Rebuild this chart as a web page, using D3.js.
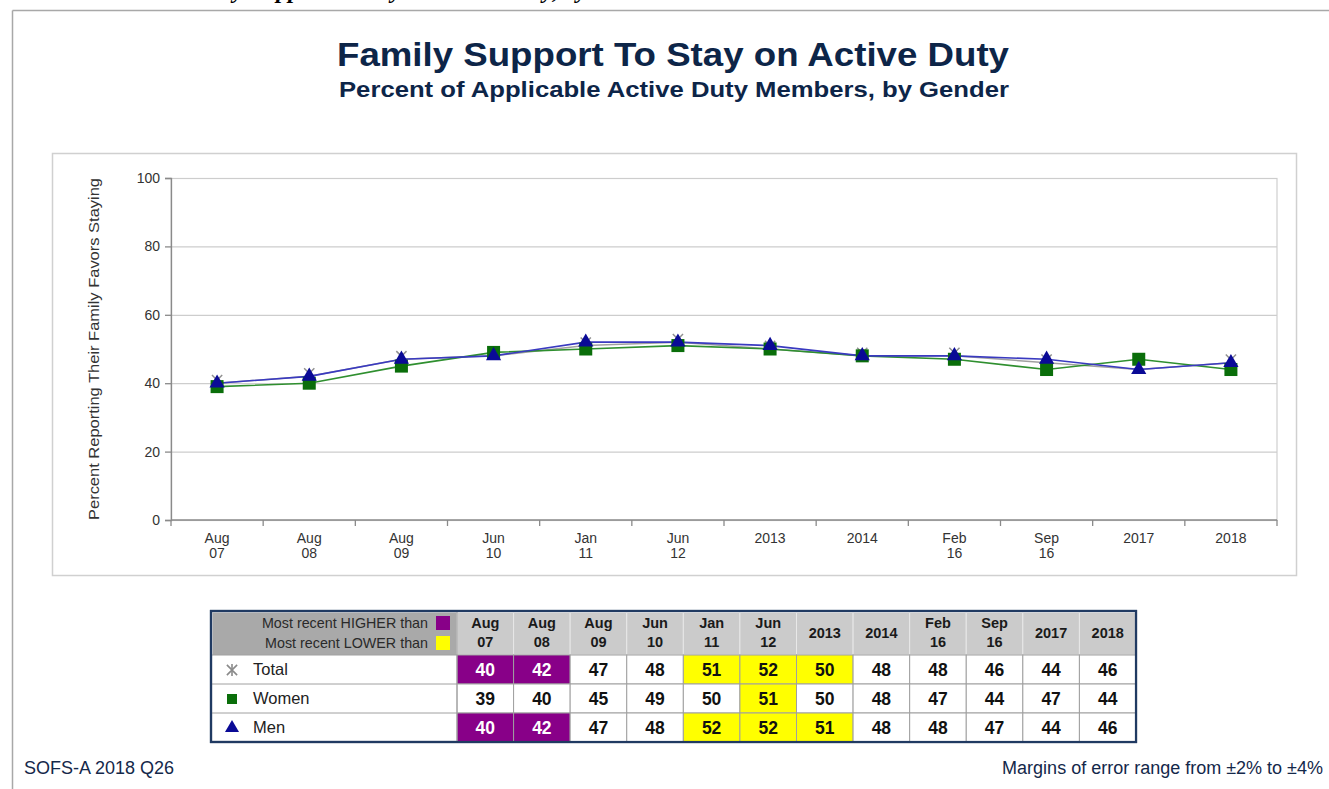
<!DOCTYPE html>
<html>
<head>
<meta charset="utf-8">
<script src="https://cdn.jsdelivr.net/npm/d3@7"></script>
<style>
  html, body { margin: 0; padding: 0; background: #fff; }
  svg { display: block; font-family: "Liberation Sans", Arial, sans-serif; }
</style>
</head>
<body>
<svg id="chart" width="1329" height="789"></svg>
<script>
// ---------- DATA ----------
const categories = ["Aug\n07","Aug\n08","Aug\n09","Jun\n10","Jan\n11","Jun\n12","2013","2014","Feb\n16","Sep\n16","2017","2018"];
const totalValues = [40,42,47,48,51,52,50,48,48,46,44,46];
const womenValues = [39,40,45,49,50,51,50,48,47,44,47,44];
const menValues   = [40,42,47,48,52,52,51,48,48,47,44,46];
// significance flags for the table: H = most recent higher than, L = most recent lower than
const totalSig = ["H","H","","","L","L","L","","","","",""];
const womenSig = ["","","","","","L","","","","","",""];
const menSig   = ["H","H","","","L","L","L","","","","",""];
const yTicks = [0,20,40,60,80,100];
const seriesNames = ["Total","Women","Men"];

// ---------- SETUP ----------
const svg = d3.select("#chart");
const navy = "#0d2548";

// outer frame
svg.append("line").attr("x1",12.5).attr("x2",1329).attr("y1",10.5).attr("y2",10.5).attr("stroke","#a8a8a8").attr("stroke-width",1.5);
svg.append("line").attr("x1",12.5).attr("x2",12.5).attr("y1",10.5).attr("y2",789).attr("stroke","#a8a8a8").attr("stroke-width",1.5);

// cropped heading at very top (only descenders visible in the reference)
svg.append("text").attr("x",173).attr("y",-2)
  .attr("font-family","'Liberation Serif','Times New Roman',serif").attr("font-weight","bold").attr("font-style","italic")
  .attr("font-size",24).attr("fill","#000")
  .text("Family Support to Stay on Active Duty, by Gender");

// titles
svg.append("text").attr("x",673).attr("y",66).attr("text-anchor","middle")
  .attr("font-size",33).attr("font-weight","bold").attr("fill",navy)
  .attr("textLength",672).attr("lengthAdjust","spacingAndGlyphs")
  .text("Family Support To Stay on Active Duty");
svg.append("text").attr("x",674).attr("y",97).attr("text-anchor","middle")
  .attr("font-size",22.5).attr("font-weight","bold").attr("fill",navy)
  .attr("textLength",670).attr("lengthAdjust","spacingAndGlyphs")
  .text("Percent of Applicable Active Duty Members, by Gender");

// chart panel
svg.append("rect").attr("x",52.5).attr("y",153.5).attr("width",1244).attr("height",422)
  .attr("fill","#fff").attr("stroke","#d0d0d0").attr("stroke-width",1.5);

const plot = {left:171, right:1277, top:178, bottom:520};
const x = d3.scaleBand().domain(d3.range(categories.length)).range([plot.left, plot.right]).padding(0);
const y = d3.scaleLinear().domain([0,100]).range([plot.bottom, plot.top]);
const cx = i => x(i) + x.bandwidth()/2;

// plot border
svg.append("rect").attr("x",plot.left).attr("y",plot.top+0.5).attr("width",plot.right-plot.left).attr("height",plot.bottom-plot.top)
  .attr("fill","none").attr("stroke","#cfcfcf").attr("stroke-width",1.2);

// gridlines
svg.append("g").attr("transform",`translate(${plot.left},0)`)
  .call(d3.axisLeft(y).tickValues(yTicks).tickSize(-(plot.right-plot.left)).tickFormat(""))
  .call(g => g.select(".domain").remove())
  .call(g => g.selectAll("line").attr("stroke","#cdcdcd").attr("stroke-width",1.2));

// y axis
svg.append("g").attr("transform",`translate(${plot.left},0)`)
  .call(d3.axisLeft(y).tickValues(yTicks).tickSize(6).tickPadding(5))
  .call(g => g.select(".domain").attr("stroke","#8a8a8a").attr("stroke-width",1.3))
  .call(g => g.selectAll("line").attr("stroke","#8a8a8a").attr("stroke-width",1.3))
  .call(g => g.selectAll("text").attr("font-size",14).attr("fill","#333").attr("font-family","'Liberation Sans', Arial, sans-serif"));

// x axis baseline and boundary ticks
svg.append("line").attr("x1",plot.left).attr("x2",plot.right).attr("y1",y(0)).attr("y2",y(0)).attr("stroke","#8a8a8a").attr("stroke-width",1.3);
svg.append("g").selectAll("line").data(d3.range(categories.length+1)).join("line")
  .attr("x1",i => i < categories.length ? x(i) : plot.right).attr("x2",i => i < categories.length ? x(i) : plot.right)
  .attr("y1",y(0)).attr("y2",y(0)+6).attr("stroke","#8a8a8a").attr("stroke-width",1.3);

// x labels
const xl = svg.append("g").selectAll("text").data(categories).join("text")
  .attr("x",(d,i)=>cx(i)).attr("y",543).attr("text-anchor","middle")
  .attr("font-size",14).attr("fill","#333");
xl.each(function(d){
  const parts = d.split("\n");
  const t = d3.select(this);
  parts.forEach((p,k)=> t.append("tspan").attr("x",t.attr("x")).attr("dy",k===0?0:15).text(p));
});

// y axis title
svg.append("text").attr("transform","translate(99,349) rotate(-90)").attr("text-anchor","middle")
  .attr("font-size",15).attr("fill","#333")
  .attr("textLength",342).attr("lengthAdjust","spacingAndGlyphs")
  .text("Percent Reporting Their Family Favors Staying");

// lines
const line = d3.line().x((d,i)=>cx(i)).y(d=>y(d));
svg.append("path").datum(totalValues).attr("d",line).attr("fill","none").attr("stroke","#a0a0a0").attr("stroke-width",1.5);
svg.append("path").datum(womenValues).attr("d",line).attr("fill","none").attr("stroke","#2f8f2f").attr("stroke-width",1.6);
svg.append("path").datum(menValues).attr("d",line).attr("fill","none").attr("stroke","#3a3ac0").attr("stroke-width",1.6);

// markers
svg.append("g").selectAll("path").data(totalValues).join("path")
  .attr("transform",(d,i)=>`translate(${cx(i)},${y(d)-3})`)
  .attr("d", d3.symbol().type(d3.symbolTimes).size(70)).attr("stroke","#909090").attr("stroke-width",1.5).attr("fill","none");
svg.append("g").selectAll("rect").data(womenValues).join("rect")
  .attr("x",(d,i)=>cx(i)-6.5).attr("y",d=>y(d)-6.5).attr("width",13).attr("height",13).attr("fill","#0a6e0a");
svg.append("g").selectAll("path").data(menValues).join("path")
  .attr("transform",(d,i)=>`translate(${cx(i)},${y(d)})`)
  .attr("d", d3.symbol().type(d3.symbolTriangle).size(100)).attr("fill","#0a0a96");

// ---------- TABLE ----------
const tbl = {left:211, labelRight:457, right:1136, top:611, headerBottom:655, rowH:29};
const cols = d3.scaleBand().domain(d3.range(categories.length)).range([tbl.labelRight, tbl.right]);
const rowY = i => tbl.headerBottom + i*tbl.rowH;
const T = svg.append("g");

// outer box
T.append("rect").attr("x",tbl.left).attr("y",tbl.top).attr("width",tbl.right-tbl.left).attr("height",rowY(3)-tbl.top)
  .attr("fill","#fff").attr("stroke","#203a62").attr("stroke-width",2.2);

// header background
T.append("rect").attr("x",tbl.left+1.5).attr("y",tbl.top+1.5).attr("width",tbl.labelRight-tbl.left-1.5).attr("height",tbl.headerBottom-tbl.top-1.5).attr("fill","#a9a9a9");
T.selectAll("rect.hc").data(categories).join("rect").attr("class","hc")
  .attr("x",(d,i)=>cols(i)).attr("y",tbl.top+1.5).attr("width",cols.bandwidth()).attr("height",tbl.headerBottom-tbl.top-1.5)
  .attr("fill","#cbcbcb").attr("stroke","#e8e8e8").attr("stroke-width",1);

// header legend
T.append("text").attr("x",428).attr("y",628).attr("text-anchor","end").attr("font-size",14.3).attr("fill","#2a2a2a").text("Most recent HIGHER than");
T.append("text").attr("x",428).attr("y",648).attr("text-anchor","end").attr("font-size",14.3).attr("fill","#2a2a2a").text("Most recent LOWER than");
T.append("rect").attr("x",436).attr("y",616).attr("width",14).attr("height",14).attr("fill","#880088");
T.append("rect").attr("x",436).attr("y",636).attr("width",14).attr("height",14).attr("fill","#ffff00");

// header labels
const hl = T.selectAll("text.hl").data(categories).join("text").attr("class","hl")
  .attr("x",(d,i)=>cols(i)+cols.bandwidth()/2).attr("text-anchor","middle")
  .attr("font-size",14.5).attr("font-weight","bold").attr("fill","#1a1a1a");
hl.each(function(d){
  const parts = d.split("\n");
  const t = d3.select(this);
  if (parts.length === 1) { t.attr("y",638).text(parts[0]); }
  else { t.attr("y",628); parts.forEach((p,k)=> t.append("tspan").attr("x",t.attr("x")).attr("dy",k===0?0:19).text(p)); }
});

// rows
const rows = [
  {name:seriesNames[0], values:totalValues, sig:totalSig},
  {name:seriesNames[1], values:womenValues, sig:womenSig},
  {name:seriesNames[2], values:menValues, sig:menSig}
];
rows.forEach((r,ri)=>{
  const top = rowY(ri);
  T.selectAll(`rect.c${ri}`).data(r.values).join("rect").attr("class",`c${ri}`)
    .attr("x",(d,i)=>cols(i)).attr("y",top).attr("width",cols.bandwidth()).attr("height",tbl.rowH)
    .attr("fill",(d,i)=> r.sig[i]==="H" ? "#880088" : r.sig[i]==="L" ? "#ffff00" : "#fff")
    .attr("stroke","#a0a0a0").attr("stroke-width",1);
  T.selectAll(`text.v${ri}`).data(r.values).join("text").attr("class",`v${ri}`)
    .attr("x",(d,i)=>cols(i)+cols.bandwidth()/2).attr("y",top+21).attr("text-anchor","middle")
    .attr("font-size",17.5).attr("font-weight","bold")
    .attr("fill",(d,i)=> r.sig[i]==="H" ? "#fff" : "#111")
    .text(d=>d);
  T.append("line").attr("x1",tbl.left).attr("x2",tbl.labelRight).attr("y1",top).attr("y2",top).attr("stroke","#a0a0a0");
  T.append("text").attr("x",253).attr("y",top+20).attr("font-size",16.5).attr("fill","#222").text(r.name);
});
// legend symbols in table
T.append("path").attr("transform",`translate(232,${rowY(0)+15})`).attr("d",d3.symbol().type(d3.symbolTimes).size(70))
  .attr("stroke","#8a8a8a").attr("stroke-width",1.6).attr("fill","none");
T.append("line").attr("x1",232).attr("x2",232).attr("y1",rowY(0)+9).attr("y2",rowY(0)+21).attr("stroke","#8a8a8a").attr("stroke-width",1.6);
T.append("rect").attr("x",227).attr("y",rowY(1)+10).attr("width",10).attr("height",10).attr("fill","#0a6e0a");
T.append("path").attr("transform",`translate(232,${rowY(2)+15})`).attr("d",d3.symbol().type(d3.symbolTriangle).size(85)).attr("fill","#0a0a96");
// vertical separator between label and values
T.append("line").attr("x1",tbl.labelRight).attr("x2",tbl.labelRight).attr("y1",tbl.top).attr("y2",rowY(3)).attr("stroke","#a0a0a0");
// redraw outer border on top
T.append("rect").attr("x",tbl.left).attr("y",tbl.top).attr("width",tbl.right-tbl.left).attr("height",rowY(3)-tbl.top)
  .attr("fill","none").attr("stroke","#203a62").attr("stroke-width",2.2);

// footer
svg.append("text").attr("x",24).attr("y",774).attr("font-size",18).attr("fill","#14284a").text("SOFS-A 2018 Q26");
svg.append("text").attr("x",1323).attr("y",774).attr("text-anchor","end").attr("font-size",18).attr("fill","#14284a").text("Margins of error range from ±2% to ±4%");
</script>
</body>
</html>
